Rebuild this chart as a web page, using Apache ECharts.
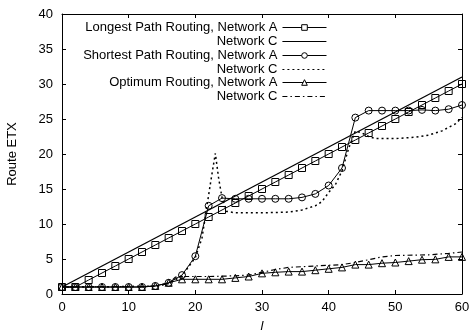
<!DOCTYPE html>
<html>
<head>
<meta charset="utf-8">
<script src="https://cdn.jsdelivr.net/npm/echarts@6/dist/echarts.min.js"></script>
<style>
  html, body { margin: 0; padding: 0; background: #fff; }
  #chart { width: 473px; height: 336px; }
</style>
</head>
<body>
<div id="chart"></div>
<script>
'use strict';

// sample positions for the marked series (l = 0, 2, ..., 60)
const markL = [0, 2, 4, 6, 8, 10, 12, 14, 16, 18, 20, 22, 24, 26, 28, 30,
               32, 34, 36, 38, 40, 42, 44, 46, 48, 50, 52, 54, 56, 58, 60];

const longestA = [1, 1, 2, 3, 4, 5, 6, 7, 8, 9, 10, 11, 12, 13, 14, 15,
                  16, 17, 18, 19, 20, 21, 22, 23, 24, 25, 26, 27, 28, 29, 30];
const longestCL = [0, 60];
const longestC = [1, 31];

const shortestA = [1, 1, 1, 1, 1, 1, 1, 1.15, 1.6, 2.7, 5.4, 12.6, 13.7, 13.6, 13.6, 13.6,
                   13.6, 13.6, 13.8, 14.3, 15.5, 18.0, 25.2, 26.2, 26.2, 26.2, 26.2, 26.3, 26.2, 26.4, 27.0];
const shortestCL = [0, 14, 16, 18, 20, 21, 21.7, 22.3, 23, 23.5, 24, 24.7, 26, 30, 34, 36,
                    38, 39, 40, 41, 42, 43, 44, 45, 46, 47, 50, 53, 55, 57, 59, 60];
const shortestC = [1, 1.1, 1.5, 2.6, 5.2, 8, 12.3, 16, 20.1, 16.5, 13.8, 11.8, 11.6, 11.6, 11.7, 12.0,
                   12.6, 13.2, 14.5, 15.6, 17.6, 20.8, 23.3, 23.0, 22.5, 22.2, 22.2, 22.4, 22.7, 23.3, 24.3, 25.2];

const optimumA = [1, 1, 1, 1, 1, 1, 1, 1.15, 1.6, 2.1, 2.1, 2.1, 2.1, 2.3, 2.5, 2.95,
                  3.1, 3.2, 3.2, 3.4, 3.6, 3.8, 4.2, 4.2, 4.4, 4.5, 4.7, 4.9, 4.95, 5.3, 5.3];
const optimumCL = [0, 14, 16, 17, 18, 22, 26, 28, 30, 32, 34, 36, 40, 42, 44, 46, 48, 50, 55, 58, 60];
const optimumC = [1, 1.1, 1.5, 2.4, 2.5, 2.5, 2.6, 2.7, 3.1, 3.5, 3.8, 3.9, 4.1, 4.2, 4.5, 4.9, 5.3, 5.5, 5.6, 5.8, 6.0];

// series names (trailing spaces keep the three "Network C" entries apart)
const names = [
    'Longest Path Routing, Network A',
    'Network C',
    'Shortest Path Routing, Network A',
    'Network C ',
    'Optimum Routing, Network A',
    'Network C  '
];
const hasMarker = [true, false, true, false, true, false];

const xTicks = { min: 0, max: 60, interval: 10 };
const yTicks = { min: 0, max: 40, interval: 5 };

function zip(xs, ys) {
    return xs.map((x, i) => [x, ys[i]]);
}

const font = 'Liberation Sans, Arial, Helvetica, sans-serif';
const black = '#000';

function markLine(name, ys, symbol, size) {
    return {
        name: name,
        type: 'line',
        data: zip(markL, ys),
        symbol: symbol,
        symbolSize: size,
        showAllSymbol: true,
        itemStyle: { color: 'rgba(0,0,0,0)', borderColor: black, borderWidth: 1 },
        lineStyle: { color: black, width: 1 },
        emphasis: { disabled: true },
        z: 3
    };
}

function plainLine(name, xs, ys, dash, width) {
    return {
        name: name,
        type: 'line',
        data: zip(xs, ys),
        symbol: 'none',
        itemStyle: { color: black },
        lineStyle: { color: black, width: width, type: dash },
        emphasis: { disabled: true },
        z: 2
    };
}

const chart = echarts.init(document.getElementById('chart'));

const legendRows = [25, 39, 53, 67, 80, 94];

const axisCommon = {
    axisLine: { show: true, onZero: false, lineStyle: { color: black, width: 1 } },
    axisTick: { show: true, inside: true, length: 4, lineStyle: { color: black } },
    splitLine: { show: false }
};

const option = {
    backgroundColor: '#fff',
    animation: false,
    grid: { left: 62, right: 11, top: 14, bottom: 42, containLabel: false, outerBoundsMode: 'none' },
    legend: names.map((n, i) => ({
        data: [n],
        orient: 'vertical',
        align: 'right',
        right: 146,
        top: legendRows[i] - 4,
        padding: 0,
        itemWidth: 44,
        itemHeight: 7,
        selectedMode: false,
        formatter: (name) => name.trim(),
        itemStyle: hasMarker[i] ? { color: '#fff', borderColor: black, borderWidth: 1 } : { opacity: 0 },
        lineStyle: { width: hasMarker[i] ? 1 : 1.2 },
        textStyle: { fontFamily: font, fontSize: 13, color: black }
    })),
    xAxis: [
        Object.assign({
            type: 'value', position: 'bottom',
            min: xTicks.min, max: xTicks.max, interval: xTicks.interval,
            name: 'l', nameLocation: 'middle', nameGap: 26,
            nameTextStyle: { fontFamily: font, fontSize: 13, fontStyle: 'italic', color: black },
            axisLabel: { fontFamily: font, fontSize: 13, color: black, margin: 7 }
        }, axisCommon),
        Object.assign({
            type: 'value', position: 'top',
            min: xTicks.min, max: xTicks.max, interval: xTicks.interval,
            axisLabel: { show: false }
        }, axisCommon)
    ],
    yAxis: [
        Object.assign({
            type: 'value', position: 'left',
            min: yTicks.min, max: yTicks.max, interval: yTicks.interval,
            name: 'Route ETX', nameLocation: 'middle', nameGap: 43,
            nameTextStyle: { fontFamily: font, fontSize: 13, color: black },
            axisLabel: { fontFamily: font, fontSize: 13, color: black, margin: 9 }
        }, axisCommon),
        Object.assign({
            type: 'value', position: 'right',
            min: yTicks.min, max: yTicks.max, interval: yTicks.interval,
            axisLabel: { show: false }
        }, axisCommon)
    ],
    series: [
        markLine(names[0], longestA, 'rect', 7),
        plainLine(names[1], longestCL, longestC, 'solid', 1.3),
        markLine(names[2], shortestA, 'circle', 7),
        plainLine(names[3], shortestCL, shortestC, [2, 3], 1.5),
        markLine(names[4], optimumA, 'triangle', 7),
        plainLine(names[5], optimumCL, optimumC, [5, 3, 1.5, 3], 1.2)
    ]
};

chart.setOption(option);
</script>
</body>
</html>
